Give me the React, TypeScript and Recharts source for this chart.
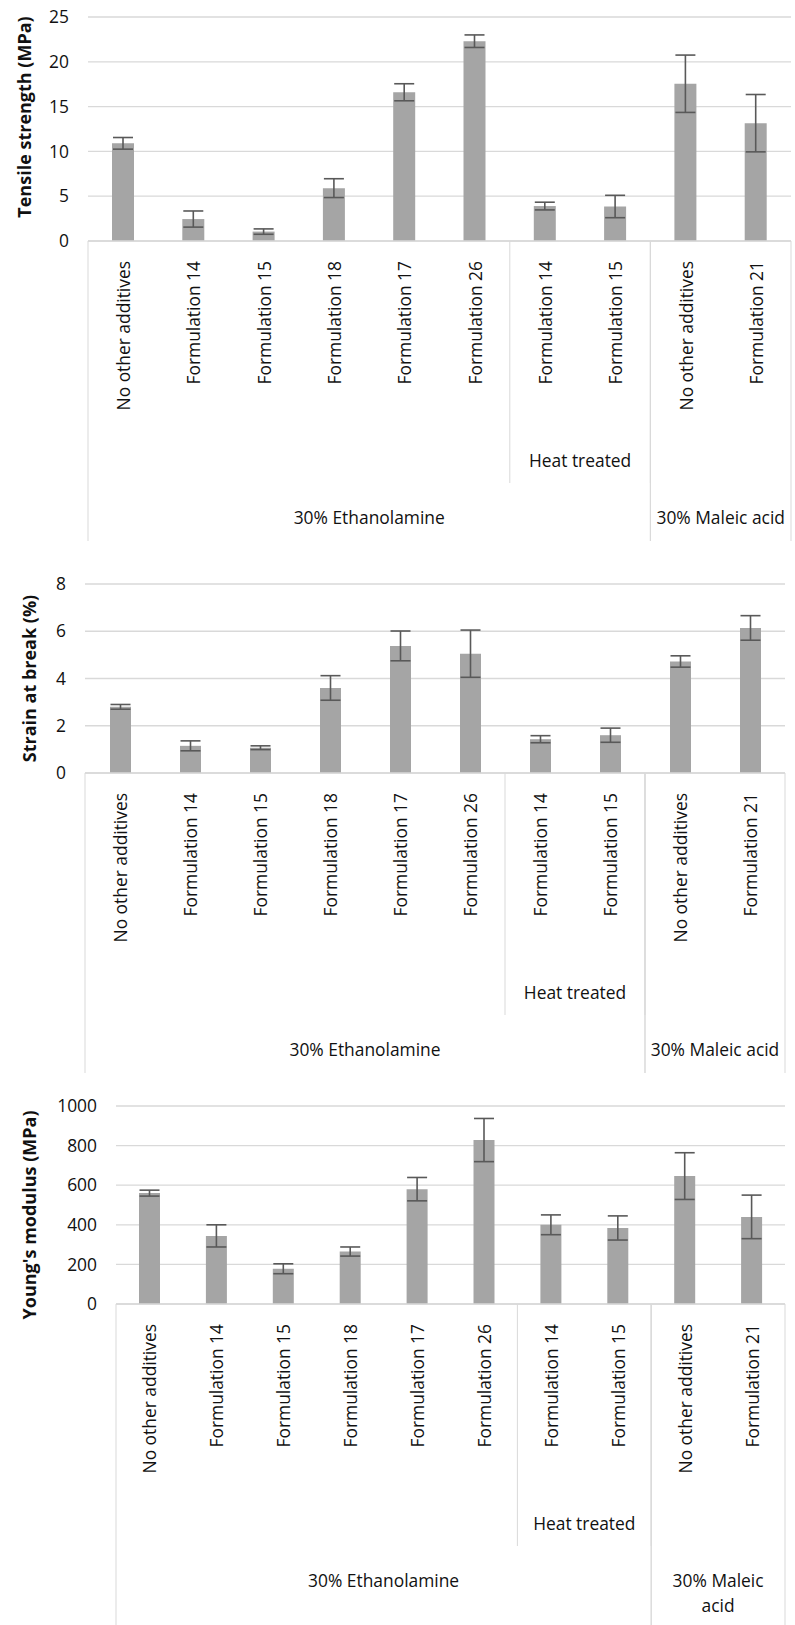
import React from 'react';
import { BarChart, Bar, XAxis, YAxis, CartesianGrid, ErrorBar } from 'recharts';

const categories = [
  'No other additives',
  'Formulation 14',
  'Formulation 15',
  'Formulation 18',
  'Formulation 17',
  'Formulation 26',
  'Formulation 14',
  'Formulation 15',
  'No other additives',
  'Formulation 21',
];

const tensileValues = [10.9, 2.45, 1.05, 5.9, 16.6, 22.3, 3.9, 3.85, 17.55, 13.15];
const tensileErrors = [0.65, 0.9, 0.3, 1.05, 0.95, 0.7, 0.43, 1.25, 3.2, 3.2];

const strainValues = [2.8, 1.15, 1.07, 3.6, 5.38, 5.05, 1.43, 1.6, 4.72, 6.14];
const strainErrors = [0.1, 0.21, 0.08, 0.52, 0.63, 1.0, 0.15, 0.3, 0.24, 0.52];

const modulusValues = [560, 344, 178, 265, 580, 828, 400, 384, 646, 440];
const modulusErrors = [15, 56, 25, 23, 59, 109, 50, 61, 118, 110];

const tensileTicks = [0, 5, 10, 15, 20, 25];
const strainTicks = [0, 2, 4, 6, 8];
const modulusTicks = [0, 200, 400, 600, 800, 1000];

const subGroups = [{ lines: ['Heat treated'], start: 6, end: 7 }];
const mainGroupsWide = [
  { lines: ['30% Ethanolamine'], start: 0, end: 7 },
  { lines: ['30% Maleic acid'], start: 8, end: 9 },
];
const mainGroupsNarrow = [
  { lines: ['30% Ethanolamine'], start: 0, end: 7 },
  { lines: ['30% Maleic', 'acid'], start: 8, end: 9 },
];

const FONT = '"Open Sans", "Noto Sans", sans-serif';
const GRID = '#D9D9D9';
const BAR = '#A5A5A5';
const ERR = '#595959';
const TEXT = '#111111';
const FS = 17.4;

function buildRows(values: number[], errors: number[]) {
  return categories.map((name, i) => ({ name, value: values[i], err: errors[i] }));
}

type Group = { lines: string[]; start: number; end: number };
type TickCfg = {
  n: number;
  plotWidth: number;
  labelTop: number;
  subLineLen: number;
  subLabelY: number;
  mainLabelY: number;
  fullLen: number;
  mainGroups: Group[];
};

function CategoryTick(props: any) {
  const { x, y, payload, cfg } = props;
  const c: TickCfg = cfg;
  const i: number = payload && typeof payload.index === 'number' ? payload.index : props.index;
  const half: number =
    payload && typeof payload.offset === 'number' && payload.offset > 0 ? payload.offset : c.plotWidth / c.n / 2;
  const items: React.ReactNode[] = [];
  const ax = x + 7;
  const ay = y + c.labelTop;
  items.push(
    <text
      key="lbl"
      x={ax}
      y={ay}
      transform={`rotate(-90, ${ax}, ${ay})`}
      textAnchor="end"
      fontFamily={FONT}
      fontSize={FS}
      fill={TEXT}
    >
      {payload.value}
    </text>
  );
  subGroups.forEach((g, gi) => {
    if (i === g.start) {
      items.push(<line key={`ss${gi}`} x1={x - half} x2={x - half} y1={y} y2={y + c.subLineLen} stroke={GRID} strokeWidth={1} />);
    }
    if (i === g.end) {
      items.push(<line key={`se${gi}`} x1={x + half} x2={x + half} y1={y} y2={y + c.subLineLen} stroke={GRID} strokeWidth={1} />);
    }
    const center = (g.start + g.end) / 2;
    if (i === Math.floor(center)) {
      const cx = x + (center - Math.floor(center)) * 2 * half;
      items.push(
        <text key={`sl${gi}`} x={cx} y={y + c.subLabelY} textAnchor="middle" dominantBaseline="central" fontFamily={FONT} fontSize={FS} fill={TEXT}>
          {g.lines.map((ln, li) => (
            <tspan key={li} x={cx} dy={li === 0 ? 0 : 25}>{ln}</tspan>
          ))}
        </text>
      );
    }
  });
  c.mainGroups.forEach((g, gi) => {
    if (i === g.start) {
      items.push(<line key={`ms${gi}`} x1={x - half} x2={x - half} y1={y} y2={y + c.fullLen} stroke={GRID} strokeWidth={1} />);
    }
    if (i === g.end) {
      items.push(<line key={`me${gi}`} x1={x + half} x2={x + half} y1={y} y2={y + c.fullLen} stroke={GRID} strokeWidth={1} />);
    }
    const center = (g.start + g.end) / 2;
    if (i === Math.floor(center)) {
      const cx = x + (center - Math.floor(center)) * 2 * half;
      items.push(
        <text key={`ml${gi}`} x={cx} y={y + c.mainLabelY} textAnchor="middle" dominantBaseline="central" fontFamily={FONT} fontSize={FS} fill={TEXT}>
          {g.lines.map((ln, li) => (
            <tspan key={li} x={cx} dy={li === 0 ? 0 : 25}>{ln}</tspan>
          ))}
        </text>
      );
    }
  });
  return <g>{items}</g>;
}

function YTitle(props: any) {
  const { viewBox, text, cx, dy } = props;
  const vb = viewBox || { y: 0, height: 0 };
  const cy = vb.y + vb.height / 2 + dy;
  return (
    <text
      x={cx}
      y={cy}
      transform={`rotate(-90, ${cx}, ${cy})`}
      textAnchor="middle"
      dominantBaseline="central"
      fontFamily={FONT}
      fontSize={18}
      fontWeight="bold"
      fill={TEXT}
    >
      {text}
    </text>
  );
}

type PanelProps = {
  width: number;
  height: number;
  top: number;
  right: number;
  yWidth: number;
  xHeight: number;
  values: number[];
  errors: number[];
  ticks: number[];
  domainMax: number;
  title: string;
  titleX: number;
  titleDy: number;
  barSize: number;
  mainGroups: Group[];
  subLineLen: number;
};

function Panel(p: PanelProps) {
  const rows = buildRows(p.values, p.errors);
  const plotWidth = p.width - p.yWidth - p.right;
  const cfg: TickCfg = {
    n: categories.length,
    plotWidth,
    labelTop: 20,
    subLineLen: p.subLineLen,
    subLabelY: 219,
    mainLabelY: 275.5,
    fullLen: p.xHeight,
    mainGroups: p.mainGroups,
  };
  return (
    <BarChart
      width={p.width}
      height={p.height}
      data={rows}
      margin={{ top: p.top, right: p.right, bottom: 0, left: 0 }}
      barSize={p.barSize}
    >
      <CartesianGrid vertical={false} stroke={GRID} strokeWidth={1.3} />
      <XAxis
        dataKey="name"
        interval={0}
        height={p.xHeight}
        tickLine={false}
        tickSize={0}
        tickMargin={0}
        axisLine={{ stroke: GRID, strokeWidth: 1.3 }}
        tick={(tp: any) => <CategoryTick {...tp} cfg={cfg} />}
      />
      <YAxis
        width={p.yWidth}
        domain={[0, p.domainMax]}
        ticks={p.ticks}
        interval={0}
        axisLine={false}
        tickLine={false}
        tickSize={0}
        tickMargin={19}
        tick={{ fontFamily: FONT, fontSize: FS, fill: TEXT }}
        label={{ content: (lp: any) => <YTitle {...lp} text={p.title} cx={p.titleX} dy={p.titleDy} /> }}
      />
      <Bar dataKey="value" fill={BAR} isAnimationActive={false}>
        <ErrorBar dataKey="err" width={10} stroke={ERR} strokeWidth={1.6} direction="y" isAnimationActive={false} />
      </Bar>
    </BarChart>
  );
}

export default function App() {
  return (
    <div style={{ position: 'absolute', left: 0, top: 0, width: 795, height: 1625, background: '#ffffff', fontFamily: FONT }}>
      <Panel
        width={795}
        height={541}
        top={17}
        right={4}
        yWidth={88}
        xHeight={300}
        values={tensileValues}
        errors={tensileErrors}
        ticks={tensileTicks}
        domainMax={25}
        title="Tensile strength (MPa)"
        titleX={24}
        titleDy={-12}
        barSize={22}
        mainGroups={mainGroupsWide}
        subLineLen={242}
      />
      <Panel
        width={795}
        height={532}
        top={43}
        right={10}
        yWidth={85}
        xHeight={300}
        values={strainValues}
        errors={strainErrors}
        ticks={strainTicks}
        domainMax={8}
        title="Strain at break (%)"
        titleX={29}
        titleDy={0}
        barSize={21}
        mainGroups={mainGroupsWide}
        subLineLen={242}
      />
      <Panel
        width={795}
        height={552}
        top={33}
        right={10}
        yWidth={116}
        xHeight={321}
        values={modulusValues}
        errors={modulusErrors}
        ticks={modulusTicks}
        domainMax={1000}
        title="Young's modulus (MPa)"
        titleX={29}
        titleDy={10}
        barSize={21}
        mainGroups={mainGroupsNarrow}
        subLineLen={242}
      />
    </div>
  );
}
